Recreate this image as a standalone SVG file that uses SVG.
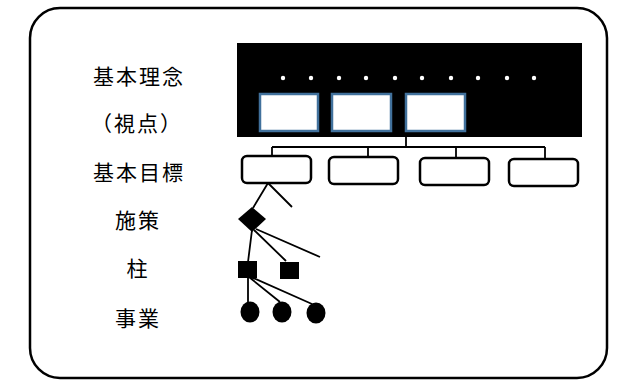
<svg xmlns="http://www.w3.org/2000/svg" width="617" height="380" viewBox="0 0 617 380">
<style>
.lbl{font-family:"Noto Sans CJK JP","Noto Sans CJK SC",sans-serif;font-size:21px;fill:#000;text-anchor:middle;dominant-baseline:central;letter-spacing:2px}
.wb{fill:#fff;stroke:#41719C;stroke-width:2.5}
.rb{fill:#fff;stroke:#000;stroke-width:2.5}
.ln{stroke:#000;stroke-width:1.8;fill:none}
.dot{fill:#fff}
</style>
<rect width="617" height="380" fill="#fff"/>
<rect id="frame" x="30" y="8" width="577" height="370" rx="30" ry="30" fill="none" stroke="#000" stroke-width="2.5"/>
<g id="labels">
<text class="lbl" x="139" y="75">基本理念</text>
<text class="lbl" x="137" y="122">（視点）</text>
<text class="lbl" x="139" y="171">基本目標</text>
<text class="lbl" x="138" y="219">施策</text>
<text class="lbl" x="138" y="267">柱</text>
<text class="lbl" x="138" y="317">事業</text>
</g>
<g id="concept">
<rect x="237" y="43" width="345" height="94" fill="#000"/>
<g class="dot">
<circle cx="283" cy="78" r="2.2"/><circle cx="311" cy="78" r="2.2"/><circle cx="339" cy="78" r="2.2"/><circle cx="366" cy="78" r="2.2"/><circle cx="395" cy="78" r="2.2"/><circle cx="422" cy="78" r="2.2"/><circle cx="451" cy="78" r="2.2"/><circle cx="478" cy="78" r="2.2"/><circle cx="507" cy="78" r="2.2"/><circle cx="534" cy="78" r="2.2"/>
</g>
</g>
<g id="view1"><rect class="wb" x="260" y="94" width="58" height="37"/></g>
<g id="view2"><rect class="wb" x="332" y="94" width="59" height="37"/></g>
<g id="view3"><rect class="wb" x="406" y="94" width="59" height="37"/></g>
<g id="connectors">
<path class="ln" d="M406 137V147M272 147H545M272 147V157M368 147V158M456 147V158M545 147V160"/>
<path class="ln" d="M268 183L253 208M268 183L292 207"/>
<path class="ln" d="M252 230L248 262M254 230L286 261M256 229L320 257"/>
<path class="ln" d="M248 278V303M249 277L280 302M251 277L312 304"/>
</g>
<g id="goal1"><rect class="rb" x="242" y="156" width="69" height="27" rx="5"/></g>
<g id="goal2"><rect class="rb" x="329" y="157" width="69" height="27" rx="5"/></g>
<g id="goal3"><rect class="rb" x="420" y="158" width="69" height="27" rx="5"/></g>
<g id="goal4"><rect class="rb" x="509" y="159" width="69" height="27" rx="5"/></g>
<g id="measure"><polygon points="252,207 266,219 252,232 238,219" fill="#000"/></g>
<g id="pillar1"><rect x="238" y="261" width="19" height="17" fill="#000"/></g>
<g id="pillar2"><rect x="280" y="262" width="19" height="17" fill="#000"/></g>
<g id="project1"><ellipse cx="250" cy="312" rx="9.5" ry="10.5" fill="#000"/></g>
<g id="project2"><ellipse cx="282" cy="312" rx="9.5" ry="10.5" fill="#000"/></g>
<g id="project3"><ellipse cx="316" cy="313" rx="9.5" ry="10.5" fill="#000"/></g>
</svg>
